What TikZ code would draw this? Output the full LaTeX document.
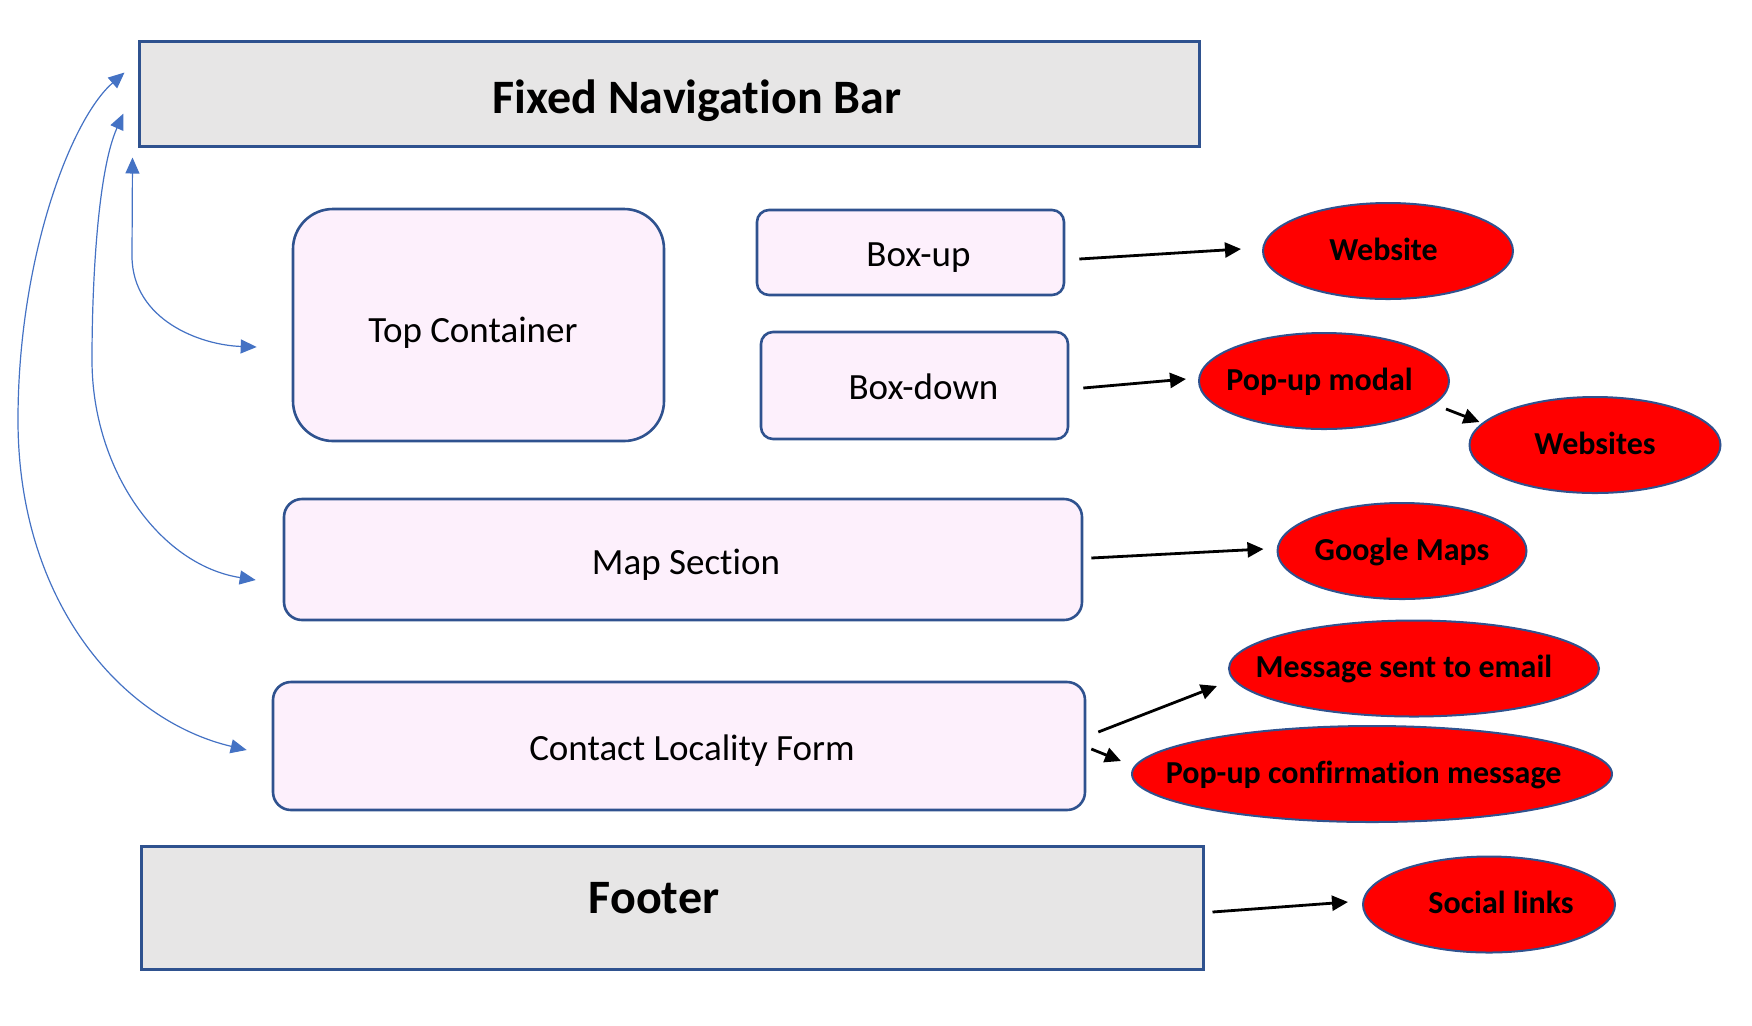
\documentclass[tikz,border=0pt]{standalone}
\usepackage{fontspec}
\setmainfont{Carlito}[Ligatures=CommonOff]
\usetikzlibrary{arrows.meta,shapes.geometric}
\definecolor{navgray}{HTML}{E7E6E6}
\definecolor{edgeblue}{HTML}{2F528F}
\definecolor{boxpink}{HTML}{FDF0FC}
\definecolor{linkblue}{HTML}{4472C4}
\begin{document}
\begin{tikzpicture}[x=0.5pt,y=-0.5pt,
    bar/.style={draw=edgeblue,line width=1.5pt,fill=navgray,inner sep=0pt,
      font=\fontsize{24}{28}\selectfont\bfseries},
    part/.style={draw=edgeblue,line width=1.3pt,fill=boxpink,inner sep=0pt,
      text height=14pt,text depth=0pt,font=\fontsize{18.5}{22}\selectfont},
    target/.style={ellipse,draw=edgeblue,line width=1pt,fill=red,inner ysep=0pt,
      inner xsep=-20pt,text height=12pt,text depth=2.7pt,minimum height=48pt,
      font=\fontsize{16}{19}\selectfont\bfseries},
    goes/.style={-{Triangle[length=8pt,width=7.5pt]},line width=1.4pt},
    back/.style={{Triangle[length=8pt,width=7pt]}-{Triangle[length=8pt,width=7pt]},
      draw=linkblue,line width=0.6pt}]
  \useasboundingbox (0,0) rectangle (1752,1025);

  % page sections
  \node[bar,text height=20pt,text depth=0pt,minimum width=530pt,minimum height=52.5pt]
        (nav) at (669,93.5) {\hspace*{28pt}Fixed Navigation Bar};
  \node[part,text height=17pt,rounded corners=20pt,minimum width=185.5pt,minimum height=116pt]
        (top) at (478.5,325) {Top Container\hspace*{5.6pt}};
  \node[part,rounded corners=6pt,minimum width=153.5pt,minimum height=42.5pt]
        (boxup) at (910.5,252.5) {\hspace*{8pt}Box-up};
  \node[part,rounded corners=6pt,minimum width=153.5pt,minimum height=53.5pt]
        (boxdown) at (914.5,385.5) {\hspace*{9pt}Box-down};
  \node[part,text height=15pt,rounded corners=9pt,minimum width=399pt,minimum height=60.5pt]
        (map) at (683,559.5) {\hspace*{3pt}Map Section};
  \node[part,rounded corners=9pt,minimum width=406pt,minimum height=64pt]
        (contact) at (679,746) {\hspace*{13pt}Contact Locality Form};
  \node[bar,text height=16pt,text depth=10pt,minimum width=531pt,minimum height=61.5pt]
        (footer) at (672,907.5) {Footer\hspace*{18pt}};

  % what they lead to
  \node[target,minimum width=125pt] (website) at (1388,251) {Website\hspace*{4.5pt}};
  \node[target,minimum width=125pt] (modal) at (1324,381) {Pop-up modal\hspace*{4.5pt}};
  \node[target,minimum width=125.5pt] (websites) at (1595,445) {Websites};
  \node[target,minimum width=124.5pt] (gmaps) at (1402,551) {Google Maps};
  \node[target,minimum width=185pt] (email) at (1414,668.5)
        {Message sent to email\hspace*{10pt}};
  \node[target,minimum width=240pt] (confirm) at (1372,774)
        {Pop-up confirmation message\hspace*{8.4pt}};
  \node[target,minimum width=126pt] (social) at (1489,904.5)
        {\hspace*{12pt}Social links};

  \draw[goes] ([shift={(14,6.5)}]boxup.east) -- ([shift={(-21,-2)}]website.west);
  \draw[goes] ([shift={(14,2.5)}]boxdown.east) -- ([shift={(-12,-2)}]modal.west);
  \draw[goes] ([shift={(122,28)}]modal.center) -- ([shift={(11,-23)}]websites.west);
  \draw[goes] ([shift={(8,-1.5)}]map.east) -- ([shift={(-13,-2)}]gmaps.west);
  \draw[goes] ([shift={(12,-14)}]contact.east) -- ([shift={(-11,17.5)}]email.west);
  \draw[goes] ([shift={(5,3)}]contact.east) -- ([shift={(-10,-13)}]confirm.west);
  \draw[goes] ([shift={(8,4.5)}]footer.east) -- ([shift={(-14,-2.5)}]social.west);

  % links back to the navigation bar
  \draw[back] ([shift={(-5,10)}]nav.south west) -- (132,257)
        .. controls (133,320) and (200,345) .. ([shift={(-35,22)}]top.west);
  \draw[back] ([shift={(-14,20)}]nav.west) .. controls (98,170) and (92,280) .. (92,360)
        .. controls (92,470) and (160,565) .. ([shift={(-27,20.5)}]map.west);
  \draw[back] ([shift={(-13,-21)}]nav.west) .. controls (70,120) and (18,260) .. (18,420)
        .. controls (18,600) and (120,720) .. ([shift={(-25,4)}]contact.west);
\end{tikzpicture}
\end{document}
